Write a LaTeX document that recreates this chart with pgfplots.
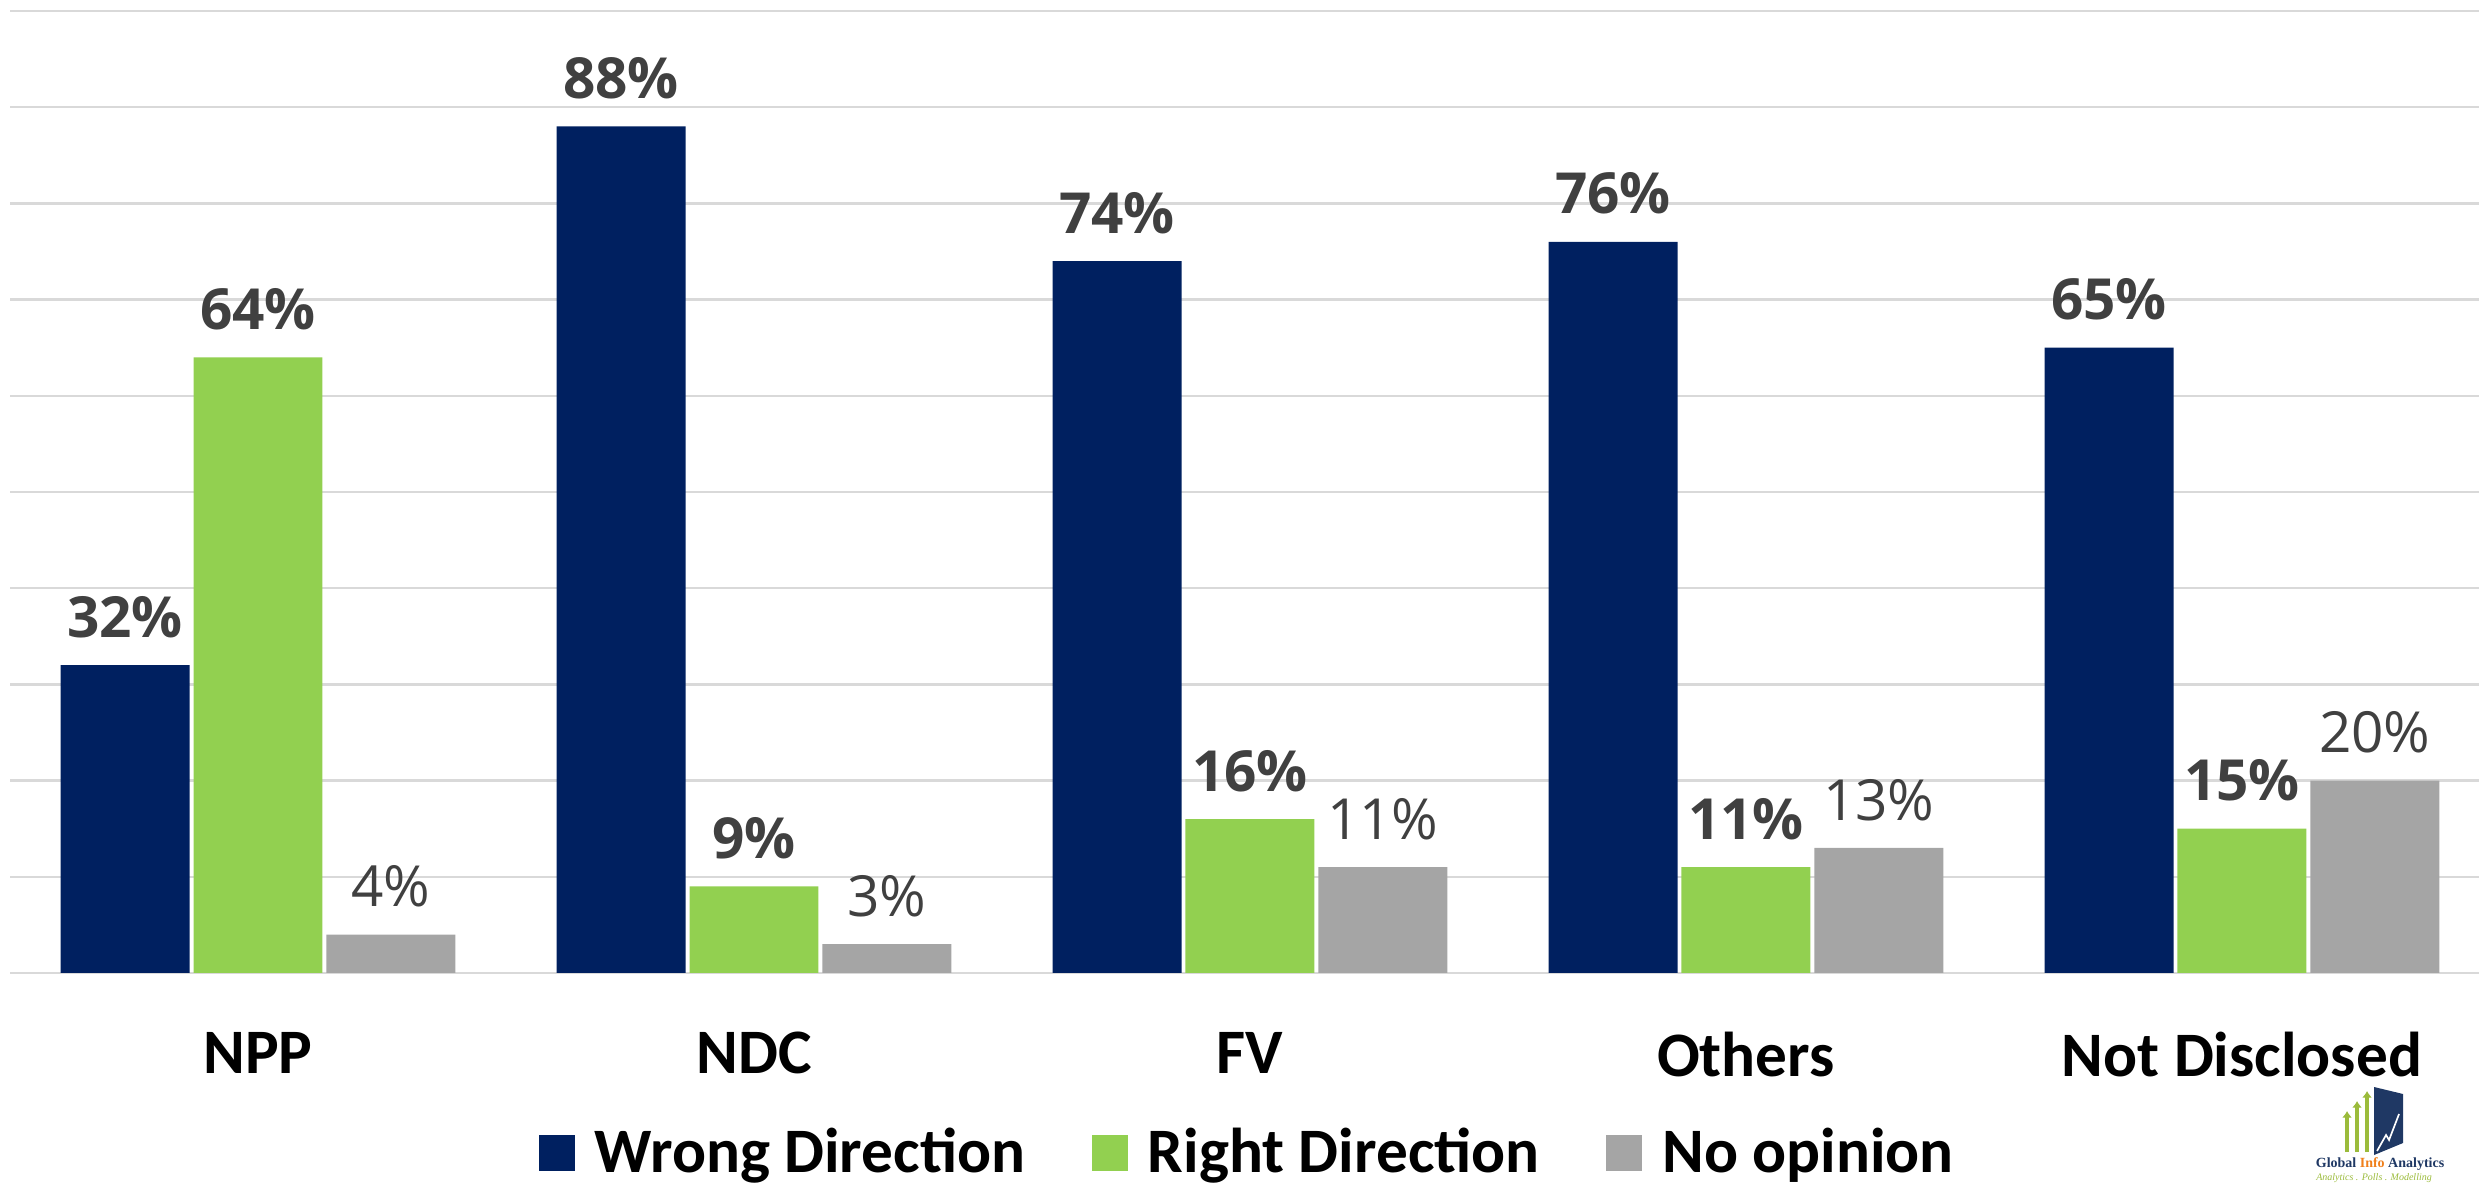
\documentclass[border=0pt]{standalone}
\usepackage{fontspec}
\setmainfont{Carlito}
\newfontfamily\labfont{Open Sans}
\newfontfamily\logofont{Liberation Serif}
\usepackage{pgfplots}
\pgfplotsset{compat=1.18}
\usetikzlibrary{arrows.meta}
\definecolor{navy}{HTML}{002060}
\definecolor{lgreen}{HTML}{92D050}
\definecolor{mgray}{HTML}{A5A5A5}
\definecolor{labgray}{HTML}{404040}
\definecolor{gridgray}{HTML}{D9D9D9}
\definecolor{logonavy}{HTML}{1F3864}
\definecolor{logogreen}{HTML}{9BBB3B}
\definecolor{logoorange}{HTML}{F07F1A}
\begin{document}
\begin{tikzpicture}
\begin{axis}[name=ax, scale only axis, width=740.7pt, height=288.6pt,
    xmin=-0.5, xmax=4.478, ymin=0, ymax=100,
    axis line style={draw=none}, tick style={draw=none},
    ytick={0,10,...,100}, yticklabels={},
    ymajorgrids, grid style={gridgray, line width=0.7pt},
    xtick={0,...,4}, xticklabels={NPP,NDC,FV,Others,Not Disclosed},
    xticklabel style={font=\fontsize{19}{19}\selectfont\bfseries, yshift=-10pt},
    /pgf/number format/assume math mode=true,
    ybar, bar width=0.26, clip=false,
    nodes near coords={\pgfmathprintnumber{\pgfplotspointmeta}\%},
    every node near coord/.append style={font=\labfont\fontsize{17}{17}\selectfont\bfseries,
        text=labgray, anchor=south, inner sep=0pt, yshift=8pt},
    legend image code/.code={\fill[#1] (0pt,-5.4pt) rectangle (10.8pt,5.4pt);},
    legend style={at={(axis description cs:0.5,0)}, anchor=center, yshift=-54pt, xshift=1.5pt,
        draw=none, fill=none, legend columns=-1, font=\fontsize{19}{19}\selectfont\bfseries,
        /tikz/every odd column/.append style={column sep=4pt},
        /tikz/every even column/.append style={column sep=18pt}},
]
\addplot[fill=navy, draw=none, bar shift=-0.268]
    coordinates {(0,32) (1,88) (2,74) (3,76) (4,65)};
\addlegendentry{Wrong Direction}
\addplot[fill=lgreen, draw=none, bar shift=0]
    coordinates {(0,64) (1,9) (2,16) (3,11) (4,15)};
\addlegendentry{Right Direction}
\addplot[fill=mgray, draw=none, bar shift=0.268,
    every node near coord/.append style={font=\labfont\fontsize{17}{17}\selectfont}]
    coordinates {(0,4) (1,3) (2,11) (3,13) (4,20)};
\addlegendentry{No opinion}
\end{axis}
% logo, in pixel coordinates of the reference
\begin{scope}[shift={(ax.south east)}, xshift=-743.7pt, yshift=291.9pt, x=0.3pt, y=-0.3pt]
  \fill[logonavy] (2374,1087) -- (2403,1094) -- (2403,1143) -- (2374,1155) -- cycle;
  \draw[white, line width=0.5pt] (2377,1151) -- (2386,1135) -- (2389,1140) -- (2399,1114);
  \foreach \xx/\yy in {2347/1111, 2357/1101, 2367/1091}
    \draw[logogreen, line width=1.1pt, -{Latex[length=2pt,width=3pt]}] (\xx,1152) -- (\xx,\yy);
  \node[font=\logofont\fontsize{4.2}{4.2}\selectfont\bfseries, text=logonavy, inner sep=0pt]
    at (2380,1164) {Global \textcolor{logoorange}{Info} Analytics};
  \node[font=\logofont\fontsize{3}{3}\selectfont\itshape, text=logogreen, inner sep=0pt]
    at (2374,1178) {Analytics . Polls . Modelling};
\end{scope}
\pgfresetboundingbox
\path[use as bounding box] ([xshift=-3pt,yshift=-63.6pt]ax.south west) rectangle ([yshift=3.3pt]ax.north east);
\end{tikzpicture}
\end{document}
